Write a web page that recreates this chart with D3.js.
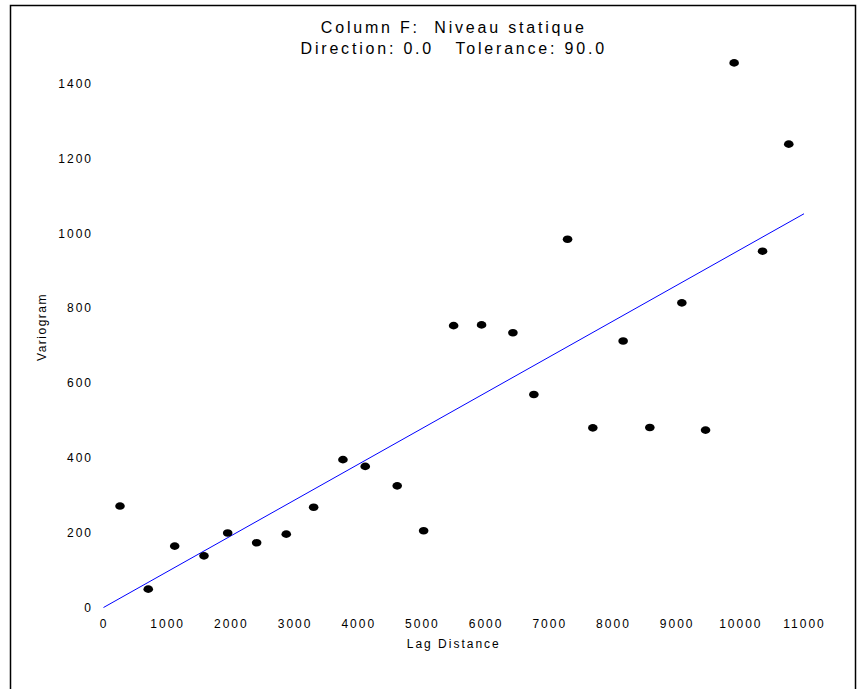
<!DOCTYPE html>
<html>
<head>
<meta charset="utf-8">
<script src="https://cdn.jsdelivr.net/npm/d3@7/dist/d3.min.js"></script>
<style>
  html, body { margin: 0; padding: 0; background: #fff; }
  svg { display: block; font-family: "Liberation Sans", Arial, sans-serif; }
  text { white-space: pre; }
</style>
</head>
<body>
<svg id="chart" width="868" height="689"></svg>
<script>
// Experimental variogram: lag distance vs semivariance
const lagDistance = [259, 703, 1118, 1578, 1950, 2405, 2870, 3300, 3760, 4110, 4612, 5027,
                     5498, 5937, 6429, 6758, 7287, 7684, 8160, 8579, 9082, 9454, 9903, 10349, 10761];
const variogram   = [271, 49, 164, 138, 199, 173, 196, 268, 395, 377, 325, 205,
                     753, 755, 734, 569, 984, 480, 712, 481, 814, 474, 1455, 952, 1238];

// Linear model fitted to the experimental points
const modelLag   = [0, 11000];
const modelValue = [0, 1052];

const xTicks = [0, 1000, 2000, 3000, 4000, 5000, 6000, 7000, 8000, 9000, 10000, 11000];
const yTicks = [0, 200, 400, 600, 800, 1000, 1200, 1400];

const titleLines = ["Column F:  Niveau statique", "Direction: 0.0   Tolerance: 90.0"];
const xTitle = "Lag Distance";
const yTitle = "Variogram";

const svg = d3.select("#chart");

const x = d3.scaleLinear().domain([0, 11000]).range([103.5, 804]);
const y = d3.scaleLinear().domain([0, 1400]).range([607.5, 83.5]);

// outer frame
svg.append("rect")
  .attr("x", 10.5).attr("y", 5.5)
  .attr("width", 845).attr("height", 700)
  .attr("fill", "none").attr("stroke", "#000").attr("stroke-width", 1.5);

// title
svg.selectAll("text.title")
  .data(titleLines)
  .join("text")
  .attr("class", "title")
  .attr("x", (x(0) + x(11000)) / 2)
  .attr("y", (d, i) => 33 + i * 21)
  .attr("text-anchor", "middle")
  .attr("font-size", 16)
  .attr("letter-spacing", 2.8)
  .attr("fill", "#000")
  .text(d => d);

// axes (labels only, no axis lines)
const xAxis = svg.append("g")
  .attr("transform", `translate(0,${y(0)})`)
  .call(d3.axisBottom(x).tickValues(xTicks).tickSize(0).tickPadding(12).tickFormat(d3.format("d")));
xAxis.select(".domain").remove();
xAxis.attr("font-family", null);
xAxis.selectAll("text").attr("font-size", 12).attr("letter-spacing", 2).attr("fill", "#000");

const yAxis = svg.append("g")
  .attr("transform", `translate(${x(0)},0)`)
  .call(d3.axisLeft(y).tickValues(yTicks).tickSize(0).tickPadding(10.5).tickFormat(d3.format("d")));
yAxis.select(".domain").remove();
yAxis.attr("font-family", null);
yAxis.selectAll("text").attr("font-size", 12).attr("letter-spacing", 2).attr("fill", "#000");

// axis titles
svg.append("text")
  .attr("x", (x(0) + x(11000)) / 2)
  .attr("y", 648)
  .attr("text-anchor", "middle")
  .attr("font-size", 12)
  .attr("letter-spacing", 2)
  .text(xTitle);

svg.append("text")
  .attr("transform", "translate(45.5,327) rotate(-90)")
  .attr("text-anchor", "middle")
  .attr("font-size", 12)
  .attr("letter-spacing", 1.5)
  .text(yTitle);

// model line
svg.append("line")
  .attr("x1", x(modelLag[0])).attr("y1", y(modelValue[0]))
  .attr("x2", x(modelLag[1])).attr("y2", y(modelValue[1]))
  .attr("stroke", "#0000ff").attr("stroke-width", 1);

// experimental points
svg.selectAll("ellipse.pt")
  .data(lagDistance.map((d, i) => ({ lag: d, value: variogram[i] })))
  .join("ellipse")
  .attr("class", "pt")
  .attr("cx", d => x(d.lag))
  .attr("cy", d => y(d.value))
  .attr("rx", 4.8)
  .attr("ry", 3.8)
  .attr("fill", "#000");
</script>
</body>
</html>
